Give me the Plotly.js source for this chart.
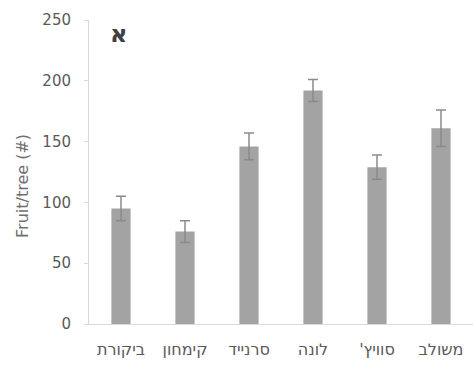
<!DOCTYPE html>
<html>
<head>
<meta charset="utf-8">
<script src="https://cdn.plot.ly/plotly-3.0.1.min.js"></script>
<style>
  html, body { margin: 0; padding: 0; background: #ffffff; }
  #chart { width: 473px; height: 367px; }
</style>
</head>
<body>
<div id="chart"></div>
<script>
// Treatments (left to right) and mean fruit count per tree
const treatments = ['ביקורת', 'קימחון', 'סרנייד', 'לונה', "סוויץ'", 'משולב'];
const fruitPerTree = [95, 76, 146, 192, 129, 161];
const standardError = [10, 9, 11, 9, 10, 15];
const yTickValues = [0, 50, 100, 150, 200, 250];
const yTitle = 'Fruit/tree (#)';
const panelLetter = 'א';

// Right-to-left mark keeps trailing punctuation on the Hebrew side
const RLM = '\u200F';
const tickLabels = treatments.map(t => RLM + t + RLM);

const trace = {
  type: 'bar',
  x: treatments,
  y: fruitPerTree,
  marker: { color: '#a3a3a3', line: { width: 0 } },
  error_y: {
    type: 'data',
    array: standardError,
    visible: true,
    color: '#8a8a8a',
    thickness: 1.5,
    width: 5
  },
  hoverinfo: 'skip'
};

const layout = {
  width: 473,
  height: 367,
  margin: { l: 89, r: 0, t: 20, b: 43 },
  paper_bgcolor: '#ffffff',
  plot_bgcolor: '#ffffff',
  showlegend: false,
  bargap: 0.7,
  font: { family: 'DejaVu Sans, sans-serif', color: '#595959' },
  xaxis: {
    type: 'category',
    tickvals: treatments,
    ticktext: tickLabels,
    showline: true,
    linecolor: '#d9d9d9',
    linewidth: 1,
    ticks: '',
    showgrid: false,
    tickfont: { size: 16, color: '#595959' },
    ticklabelstandoff: 11
  },
  yaxis: {
    range: [0, 250],
    tickvals: yTickValues,
    ticktext: yTickValues.map(String),
    showline: true,
    linecolor: '#d9d9d9',
    linewidth: 1,
    ticks: 'outside',
    ticklen: 4,
    tickcolor: '#d9d9d9',
    showgrid: false,
    zeroline: false,
    tickfont: { size: 15, color: '#595959' },
    ticklabelstandoff: 10
  },
  annotations: [
    {
      text: yTitle,
      xref: 'paper', yref: 'paper',
      x: -0.172, y: 0.454,
      xanchor: 'center', yanchor: 'middle',
      textangle: -90,
      showarrow: false,
      font: { size: 16, color: '#6f6f6f' }
    },
    {
      text: '<b>' + panelLetter + '</b>',
      xref: 'paper', yref: 'paper',
      x: 0.077, y: 0.955,
      xanchor: 'center', yanchor: 'middle',
      showarrow: false,
      font: { size: 24, color: '#404040' }
    }
  ]
};

Plotly.newPlot('chart', [trace], layout, { displayModeBar: false, staticPlot: true });
</script>
</body>
</html>
